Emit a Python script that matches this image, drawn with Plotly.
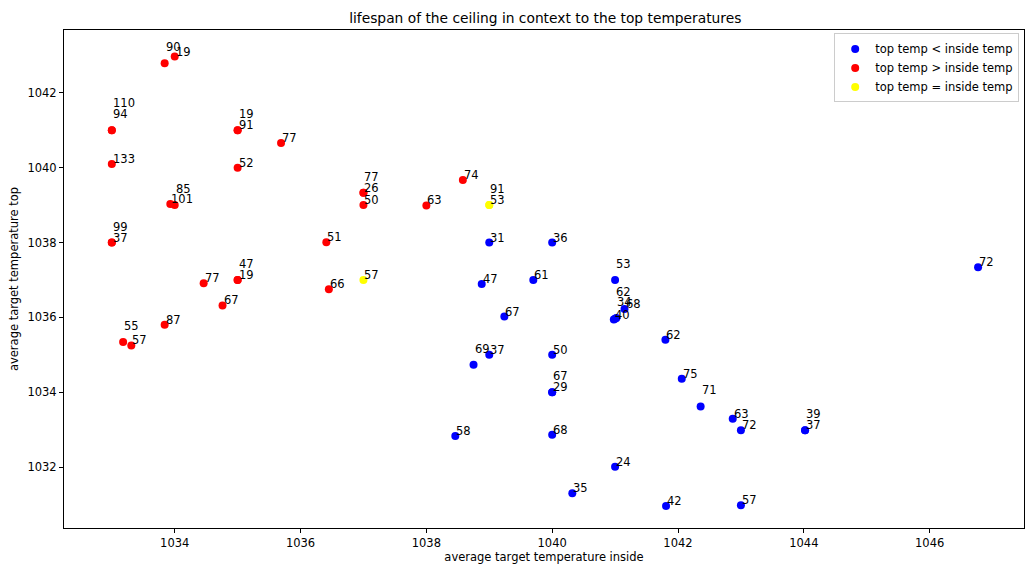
import plotly.graph_objects as go

# average target temperature inside (x) / top (y) and the ceiling lifespan per record
inside = [
    1033.84, 1034.00, 1033.00, 1033.00, 1033.00, 1035.00, 1035.00, 1035.69, 1035.00,
    1033.93, 1034.00, 1033.00, 1033.00, 1034.46, 1035.00, 1035.00, 1034.76, 1033.84,
    1033.18, 1033.31, 1037.00, 1037.00, 1037.00, 1038.00, 1038.58, 1036.41, 1036.45,
    1039.00, 1039.00, 1037.00,
    1039.00, 1040.00, 1038.88, 1039.70, 1039.24, 1041.00, 1040.98, 1041.02, 1041.00,
    1041.15, 1041.80, 1038.75, 1039.00, 1040.00, 1040.00, 1040.00, 1042.06, 1042.36,
    1038.46, 1040.00, 1041.00, 1040.32, 1041.81, 1043.00, 1042.87, 1043.00, 1044.02,
    1044.02, 1046.77,
]
top = [
    1042.79, 1042.97, 1041.00, 1041.00, 1040.10, 1041.00, 1041.00, 1040.66, 1040.00,
    1039.03, 1039.00, 1038.00, 1038.00, 1036.91, 1037.00, 1037.00, 1036.32, 1035.80,
    1035.34, 1035.25, 1039.33, 1039.33, 1039.00, 1038.99, 1039.67, 1038.01, 1036.75,
    1039.00, 1039.00, 1037.00,
    1038.00, 1038.00, 1036.89, 1037.00, 1036.02, 1037.00, 1035.94, 1035.98, 1035.96,
    1036.22, 1035.40, 1034.73, 1035.00, 1035.00, 1034.00, 1034.00, 1034.36, 1033.62,
    1032.83, 1032.86, 1032.01, 1031.30, 1030.96, 1030.98, 1033.29, 1032.98, 1032.98,
    1032.98, 1037.34,
]
lifespan = [
    90, 19, 94, 110, 133, 91, 19, 77, 52,
    101, 85, 37, 99, 77, 19, 47, 67, 87,
    55, 57, 26, 77, 50, 63, 74, 51, 66,
    53, 91, 57,
    31, 36, 47, 61, 67, 53, 40, 34, 62,
    68, 62, 69, 37, 50, 29, 67, 75, 71,
    58, 68, 24, 35, 42, 57, 63, 72, 37,
    39, 72,
]

# labels moved upward (in text rows) so that overlapping ones stay readable
label_rows = {0: 1, 2: 1, 3: 2, 6: 1, 10: 1, 12: 1, 15: 1, 18: 1, 21: 1, 28: 1,
              35: 1, 37: 1, 38: 2, 41: 1, 45: 1, 47: 1, 57: 1}

FONT = "DejaVu Sans"
groups = [
    ("top temp < inside temp", "blue", lambda i, t: t < i),
    ("top temp > inside temp", "red", lambda i, t: t > i),
    ("top temp = inside temp", "yellow", lambda i, t: t == i),
]

fig = go.Figure()
for name, color, test in groups:
    idx = [k for k in range(len(inside)) if test(inside[k], top[k])]
    fig.add_trace(go.Scatter(
        x=[inside[k] for k in idx], y=[top[k] for k in idx],
        mode="markers", name=name,
        marker=dict(color=color, size=8, line=dict(width=0)),
    ))

for k, (xv, yv, lab) in enumerate(zip(inside, top, lifespan)):
    fig.add_annotation(
        x=xv, y=yv, text=str(lab), showarrow=False,
        xanchor="left", yanchor="bottom",
        xshift=-1, yshift=-4 + 11 * label_rows.get(k, 0),
        font=dict(family=FONT, size=11.5, color="black"),
    )

axis_common = dict(
    showgrid=False, zeroline=False, showline=True, linecolor="black", linewidth=1,
    mirror=True, ticks="outside", ticklen=4, tickcolor="black",
    tickfont=dict(family=FONT, size=11.5, color="black"),
)
fig.update_xaxes(range=[1032.24, 1047.5], tickvals=list(range(1034, 1047, 2)),
                 title=dict(text="average target temperature inside", standoff=3,
                            font=dict(family=FONT, size=11.5, color="black")),
                 **axis_common)
fig.update_yaxes(range=[1030.37, 1043.68], tickvals=list(range(1032, 1043, 2)),
                 title=dict(text="average target temperature top", standoff=6,
                            font=dict(family=FONT, size=11.5, color="black")),
                 **axis_common)

fig.update_layout(
    width=1025, height=570,
    margin=dict(l=64, r=1, t=30, b=42, autoexpand=False),
    plot_bgcolor="white", paper_bgcolor="white",
    title=dict(text="lifespan of the ceiling in context to the top temperatures",
               x=0.532, xanchor="center", y=0.968, yanchor="middle",
               font=dict(family=FONT, size=13.8, color="black")),
    legend=dict(x=0.995, xanchor="right", y=0.993, yanchor="top",
                bgcolor="rgba(255,255,255,0.8)", bordercolor="#cccccc", borderwidth=1,
                font=dict(family=FONT, size=11.5, color="black"),
                itemwidth=30, tracegroupgap=0),
    showlegend=True,
)

fig.write_html("out.html")
